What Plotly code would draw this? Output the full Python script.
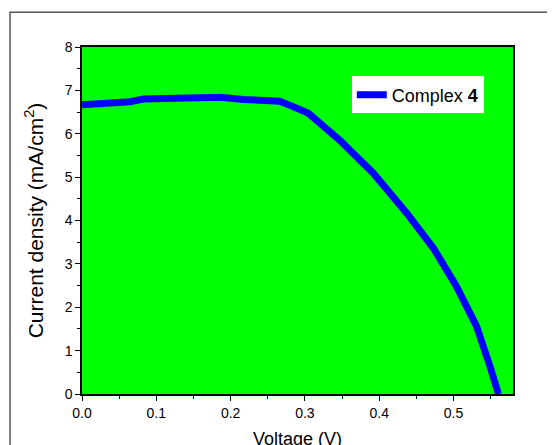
import plotly.graph_objects as go

voltage = [0.0, 0.0646, 0.0825, 0.118, 0.15, 0.168, 0.186, 0.217, 0.2328, 0.266, 0.285,
           0.3046, 0.347, 0.392, 0.437, 0.473, 0.504, 0.531, 0.549, 0.5604]
current = [6.67, 6.74, 6.80, 6.82, 6.85, 6.82, 6.84, 6.79, 6.77, 6.75, 6.62,
           6.47, 5.85, 5.09, 4.17, 3.36, 2.48, 1.56, 0.64, 0.0]

x_ticks = [0.0, 0.1, 0.2, 0.3, 0.4, 0.5]
y_ticks = [0, 1, 2, 3, 4, 5, 6, 7, 8]

FONT = "Liberation Sans, Arial, sans-serif"

fig = go.Figure()
fig.add_trace(go.Scatter(x=voltage, y=current, mode="lines",
                         line=dict(color="#0000ff", width=7),
                         name="Complex <b>4</b>"))

fig.update_layout(
    width=555, height=445,
    margin=dict(l=74, r=50, t=39, b=59, autoexpand=False),
    paper_bgcolor="white", plot_bgcolor="#00ff00",
    font=dict(family=FONT, size=14, color="black"),
    showlegend=True,
    legend=dict(x=0.626, y=0.915, xanchor="left", yanchor="top",
                bgcolor="white", borderwidth=0, font=dict(size=18),
                itemwidth=30, tracegroupgap=0),
    xaxis=dict(range=[0, 0.58], tickvals=x_ticks, ticktext=[f"{v:.1f}" for v in x_ticks],
               automargin=False,
               showgrid=False, zeroline=False, showline=True, linecolor="black", linewidth=1.5,
               mirror=True, ticks="outside", ticklen=5, tickwidth=1, tickcolor="black",
               minor=dict(dtick=0.05, ticks="outside", ticklen=3, tickcolor="black", showgrid=False),
               title=dict(text="Voltage (V)", font=dict(size=18), standoff=13)),
    yaxis=dict(range=[0, 8], tickvals=y_ticks,
               automargin=False,
               showgrid=False, zeroline=False, showline=True, linecolor="black", linewidth=1.5,
               mirror=True, ticks="outside", ticklen=5, tickwidth=1, tickcolor="black",
               minor=dict(dtick=0.5, ticks="outside", ticklen=3, tickcolor="black", showgrid=False),
               title=dict(text="Current density (mA/cm<sup>2</sup>)", font=dict(size=21), standoff=15)),
)

fig.add_shape(type="rect", xref="paper", yref="paper",
              x0=-0.167, x1=2.0, y0=-1.0, y1=1.1,
              line=dict(color="#555555", width=1.5), fillcolor="rgba(0,0,0,0)", layer="below")

fig.write_html("out.html")
